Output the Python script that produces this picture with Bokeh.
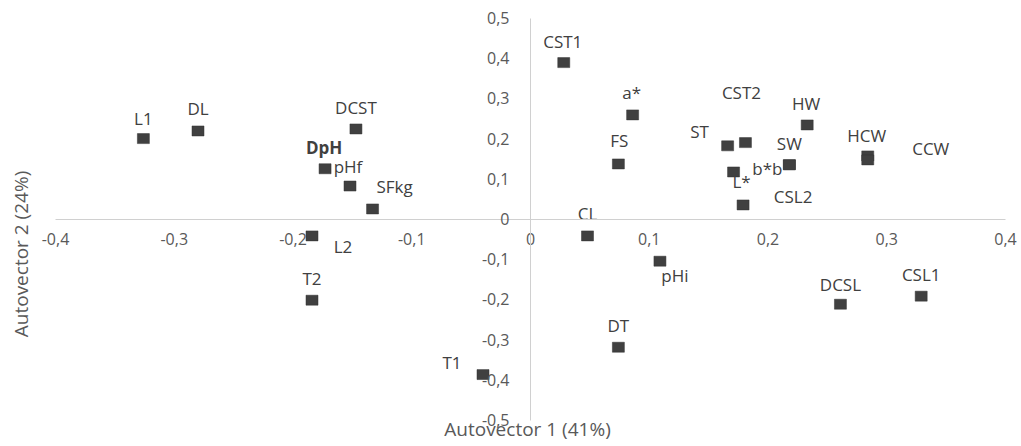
import math
from bokeh.plotting import figure
from bokeh.models import ColumnDataSource, FixedTicker, Label
from bokeh.core.properties import value
from bokeh.embed import file_html
from bokeh.resources import INLINE

# ---- data ----
names = ["L1", "DL", "DCST", "DpH", "pHf", "SFkg", "L2", "T2", "T1",
         "CST1", "a*", "FS", "ST", "CST2", "L*", "SW", "b*b", "HW",
         "HCW", "CCW", "CSL2", "CL", "pHi", "DCSL", "CSL1", "DT"]
autovector1 = [-0.326, -0.280, -0.147, -0.173, -0.152, -0.133, -0.184, -0.184, -0.040,
               0.028, 0.086, 0.074, 0.166, 0.181, 0.171, 0.218, 0.218, 0.233,
               0.284, 0.284, 0.179, 0.048, 0.109, 0.261, 0.329, 0.074]
autovector2 = [0.200, 0.219, 0.224, 0.125, 0.082, 0.025, -0.042, -0.202, -0.387,
               0.389, 0.259, 0.137, 0.182, 0.190, 0.117, 0.135, 0.135, 0.234,
               0.157, 0.147, 0.035, -0.042, -0.105, -0.212, -0.192, -0.319]
x_ticks = [-0.4, -0.3, -0.2, -0.1, 0.0, 0.1, 0.2, 0.3, 0.4]
x_tick_labels = ["-0,4", "-0,3", "-0,2", "-0,1", "0", "0,1", "0,2", "0,3", "0,4"]
y_ticks = [-0.5, -0.4, -0.3, -0.2, -0.1, 0.0, 0.1, 0.2, 0.3, 0.4, 0.5]
y_tick_labels = ["-0,5", "-0,4", "-0,3", "-0,2", "-0,1", "0", "0,1", "0,2", "0,3", "0,4", "0,5"]
x_title = "Autovector 1 (41%)"
y_title = "Autovector 2 (24%)"

# ---- label placement (screen pixel offsets, styling only) ----
label_offsets = {
    "L1": (0, -20), "DL": (0, -22), "DCST": (0, -21), "DpH": (-1, -21),
    "pHf": (-2, -20), "SFkg": (22, -22), "L2": (31, 11), "T2": (0, -22),
    "T1": (-31, -12), "CST1": (-1, -21), "a*": (-1, -22), "FS": (1, -23),
    "ST": (-28, -14), "CST2": (-4, -50), "L*": (8, 10), "SW": (0, -21),
    "b*b": (-22, 4), "HW": (-1, -21), "HCW": (-1, -20), "CCW": (63, -11),
    "CSL2": (50, -8), "CL": (0, -22), "pHi": (15, 14), "DCSL": (0, -20),
    "CSL1": (0, -22), "DT": (0, -22),
}
bold_labels = {"DpH"}

src = ColumnDataSource(dict(
    x=autovector1, y=autovector2, name=names,
    dx=[label_offsets[n][0] for n in names],
    dy=[label_offsets[n][1] for n in names],
    style=["bold" if n in bold_labels else "normal" for n in names],
))

# ---- layout: frame fills the whole canvas; axis extent mapped to pixel targets ----
W, H = 1018, 444
X_LO, X_HI = x_ticks[0], x_ticks[-1]
Y_LO, Y_HI = y_ticks[0], y_ticks[-1]
px_xlo, px_xhi = 55.0, 1005.0     # canvas x of X_LO / X_HI
px_yhi, px_ylo = 17.5, 419.5      # canvas y of Y_HI / Y_LO
sx = (px_xhi - px_xlo) / (X_HI - X_LO)
sy = (px_ylo - px_yhi) / (Y_HI - Y_LO)
x_range = (X_LO - px_xlo / sx, X_HI + (W - px_xhi) / sx)
y_range = (Y_LO - (H - px_ylo) / sy, Y_HI + px_yhi / sy)

FONT = "Open Sans"
GRAY_TXT = "#595959"
AXIS_COL = "#d0d0d0"

p = figure(width=W, height=H, x_range=x_range, y_range=y_range,
           output_backend="svg", toolbar_location=None, min_border=0)
p.outline_line_color = None
p.grid.visible = False
p.background_fill_color = "white"
p.border_fill_color = "white"

# axes crossing at the origin
for ax in (p.xaxis[0], p.yaxis[0]):
    ax.fixed_location = 0
    ax.axis_line_color = AXIS_COL
    ax.axis_line_width = 1
    ax.major_tick_line_color = None
    ax.minor_tick_line_color = None
    ax.major_tick_out = 0
    ax.major_tick_in = 0
    ax.major_label_text_color = GRAY_TXT
    ax.major_label_text_font = FONT
    ax.major_label_text_font_size = "16px"

p.xaxis.bounds = (X_LO, X_HI)
p.yaxis.bounds = (Y_LO, Y_HI)
p.xaxis.ticker = FixedTicker(ticks=x_ticks)
p.xaxis.major_label_overrides = dict(zip(x_ticks, x_tick_labels))
p.xaxis.major_label_standoff = 14
p.yaxis.ticker = FixedTicker(ticks=y_ticks)
p.yaxis.major_label_overrides = dict(zip(y_ticks, y_tick_labels))
p.yaxis.major_label_standoff = 21

# axis titles
p.add_layout(Label(x=0, y=Y_LO, x_offset=-3, y_offset=-9, text=x_title,
                   text_align="center", text_baseline="middle", text_font=FONT,
                   text_font_size="19px", text_color=GRAY_TXT))
p.add_layout(Label(x=X_LO, y=0, x_offset=-35, y_offset=-35, text=y_title, angle=math.pi / 2,
                   text_align="center", text_baseline="middle", text_font=FONT,
                   text_font_size="19px", text_color=GRAY_TXT))

# markers
p.rect(x="x", y="y", width=12, height=10, width_units="screen", height_units="screen",
       source=src, fill_color="#404040", line_color="#333333", line_width=0.5)

# point labels
p.text(x="x", y="y", text="name", x_offset="dx", y_offset="dy", source=src,
       text_align="center", text_baseline="middle", text_font=value(FONT),
       text_font_size="17px", text_font_style="style", text_color="#404040")

open("out.html", "w").write(file_html(p, INLINE))
